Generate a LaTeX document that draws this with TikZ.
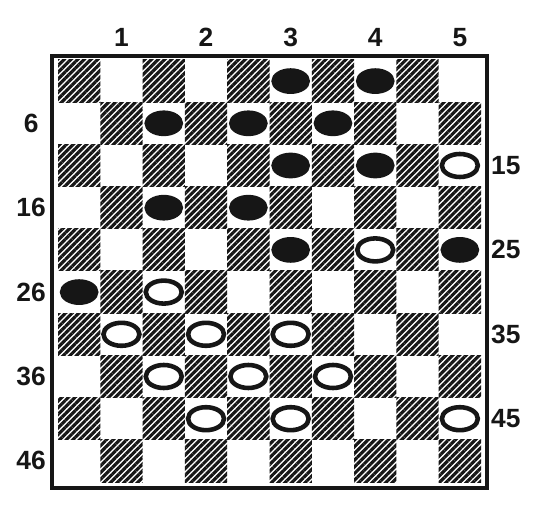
\documentclass[tikz,border=0pt]{standalone}
\usepackage{fontspec}
\setsansfont{Liberation Sans}
\usepackage{tikz}
\usetikzlibrary{patterns.meta, shapes.geometric}
\definecolor{colInk}{RGB}{22,22,22}
\tikzset{
  darksq/.style={
    pattern={Lines[angle=45, distance=2.7pt, line width=1.8pt]},
    pattern color=colInk
  },
  blackman/.style={
    ellipse, draw=colInk, fill=colInk, line width=1pt,
    minimum width=0.74cm, minimum height=0.48cm, inner sep=0pt
  },
  whiteman/.style={
    ellipse, draw=colInk, fill=white, line width=2.6pt,
    minimum width=0.72cm, minimum height=0.46cm, inner sep=0pt
  },
  sqnum/.style={
    font=\sffamily\bfseries\fontsize{15}{15}\selectfont,
    text=colInk, inner sep=0pt
  },
  boardframe/.style={draw=colInk, line width=2.3pt}
}

\begin{document}
\begin{tikzpicture}[x=0.02cm, y=-0.02cm]
\useasboundingbox (0,0) rectangle (534,506);

% ── Squares ─────────────────────────────────────────────────────────────────
\foreach \r in {1,...,10}{
  \foreach \c in {1,...,10}{
    \pgfmathtruncatemacro\odd{mod(\r+\c,2)}
    \ifnum\odd=0
      \fill[darksq] ({58+(\c-1)*42.3},{60+(\r-1)*42.2}) rectangle ++(42.3,42.2);
    \fi
  }
}

% playing squares 1..50
\foreach \n in {1,...,50}{
  \pgfmathtruncatemacro\r{int((\n-1)/5)+1}
  \pgfmathtruncatemacro\k{\n-5*(\r-1)}
  \pgfmathtruncatemacro\c{ifthenelse(mod(\r,2)==1, 2*\k, 2*\k-1)}
  \coordinate (s\n) at ({58+(\c-0.5)*42.3},{60+(\r-0.5)*42.2});
}

% ── Frame ───────────────────────────────────────────────────────────────────
\draw[boardframe] (52,56) rectangle (487,488);

% ── Numbers ─────────────────────────────────────────────────────────────────
\foreach \n in {1,...,5}
  \path (s\n) ++(0,-44) node[sqnum] (top\n) {\n};
\foreach \n in {6,16,26,36,46}
  \path (s\n) ++(-48,0) node[sqnum] (left\n) {\n};
\foreach \n in {15,25,35,45}
  \path (s\n) ++(46,0) node[sqnum] (right\n) {\n};

% ── Pieces ──────────────────────────────────────────────────────────────────
% black
\foreach \n in {3,4,7,8,9,13,14,17,18,23,25,26}
  \node[blackman] (b\n) at (s\n) {};
% white
\foreach \n in {15,24,27,31,32,33,37,38,39,42,43,45}
  \node[whiteman] (w\n) at (s\n) {};

\end{tikzpicture}
\end{document}
